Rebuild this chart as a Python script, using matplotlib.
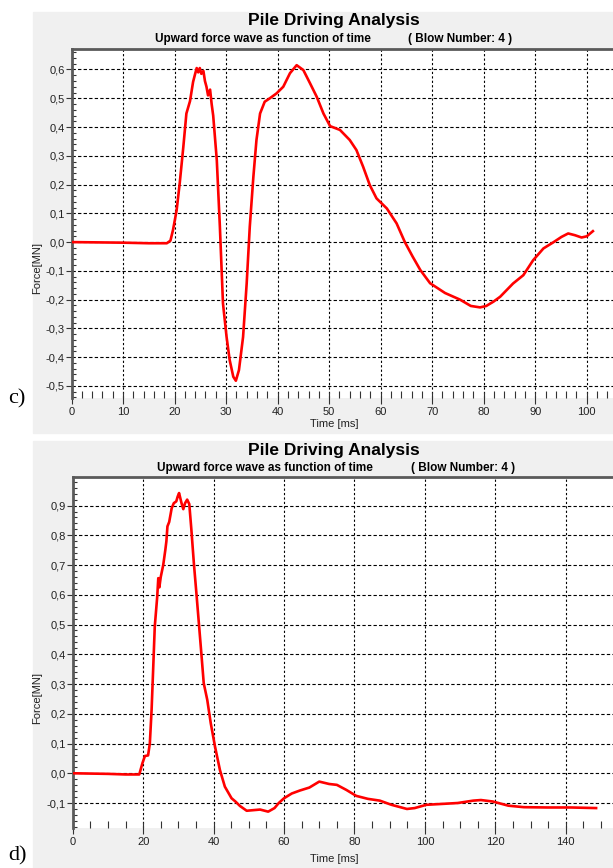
import numpy as np
import matplotlib
matplotlib.use("Agg")
import matplotlib.pyplot as plt
from matplotlib.patches import Rectangle
from matplotlib.ticker import MultipleLocator, FuncFormatter

# panel c) upward force wave, time in ms, force in MN
c_time = [0, 5, 10, 15, 18.5, 19.2, 19.7, 20.4, 21.0, 21.7, 22.3, 23.0, 23.6, 24.0,
          24.3, 24.6, 24.9, 25.2, 25.6, 25.9, 26.2, 26.5, 26.9, 27.2, 27.5, 28.2,
          28.8, 29.4, 30.1, 30.7, 31.4, 31.9, 32.5, 33.3, 34.0, 34.6, 35.3, 35.9,
          36.6, 37.5, 38.5, 39.8, 41.1, 42.4, 43.7, 45.0, 46.3, 47.6, 48.9, 50.2,
          52.1, 54.0, 55.3, 56.6, 57.9, 59.2, 61.2, 63.1, 64.7, 66.2, 67.7, 69.6,
          72.5, 75.4, 77.5, 79.3, 80.5, 81.9, 83.2, 85.7, 87.7, 89.6, 91.6, 93.5,
          95.1, 96.4, 97.7, 99.0, 100.0, 101.2]
c_force = [0.0, -0.001, -0.002, -0.004, -0.004, 0.005, 0.042, 0.11, 0.204, 0.33,
           0.447, 0.49, 0.557, 0.585, 0.605, 0.59, 0.605, 0.585, 0.595, 0.56, 0.54,
           0.51, 0.53, 0.48, 0.44, 0.285, 0.053, -0.213, -0.33, -0.41, -0.468,
           -0.482, -0.445, -0.33, -0.144, 0.053, 0.227, 0.355, 0.447, 0.488, 0.50,
           0.517, 0.54, 0.587, 0.615, 0.598, 0.552, 0.505, 0.447, 0.403, 0.39,
           0.355, 0.32, 0.262, 0.198, 0.152, 0.117, 0.065, 0.0, -0.05, -0.097,
           -0.143, -0.177, -0.20, -0.222, -0.227, -0.222, -0.207, -0.19, -0.144,
           -0.115, -0.063, -0.022, -0.001, 0.018, 0.03, 0.024, 0.016, 0.02, 0.038]

# panel d)
d_time = [0, 5, 10, 15, 18.9, 19.8, 20.5, 21.4, 21.9, 22.4, 22.8, 23.3, 24.0, 24.3,
          24.6, 25.0, 25.7, 26.3, 26.6, 26.9, 27.4, 28.1, 28.7, 29.4, 29.8, 30.2,
          30.9, 31.4, 31.9, 32.5, 33.1, 33.7, 34.4, 35.2, 35.9, 36.6, 37.2, 38.2,
          39.2, 40.4, 41.8, 43.2, 45.1, 46.2, 47.5, 49.4, 51.3, 53.2, 55.5, 57.3,
          58.5, 60.0, 62.2, 64.5, 67.2, 70.0, 72.8, 75.0, 77.7, 80.5, 83.8, 87.2,
          90.5, 94.9, 97.1, 100.4, 104.9, 109.3, 113.7, 115.9, 119.3, 123.7, 128.1,
          134.8, 141.4, 148.6]
d_force = [0.0, -0.001, -0.002, -0.004, -0.004, 0.034, 0.058, 0.06, 0.10, 0.213,
           0.336, 0.493, 0.594, 0.656, 0.625, 0.66, 0.70, 0.751, 0.78, 0.83, 0.845,
           0.891, 0.908, 0.914, 0.93, 0.942, 0.908, 0.888, 0.908, 0.92, 0.905,
           0.818, 0.706, 0.594, 0.493, 0.392, 0.303, 0.247, 0.168, 0.09, 0.011,
           -0.045, -0.084, -0.095, -0.11, -0.126, -0.124, -0.122, -0.129, -0.117,
           -0.10, -0.084, -0.068, -0.058, -0.048, -0.028, -0.036, -0.039, -0.056,
           -0.076, -0.086, -0.092, -0.106, -0.12, -0.117, -0.106, -0.103, -0.1,
           -0.092, -0.09, -0.095, -0.109, -0.114, -0.115, -0.115, -0.117]

W, H = 613, 868
SANS = ["Liberation Sans Narrow", "Liberation Sans", "DejaVu Sans"]
SERIF = ["Liberation Serif", "DejaVu Serif"]
PANEL = "#f0f0f0"
SPINE = "#5a5a5a"


def fx(x):
    return x / W


def fy(y):
    return 1 - y / H


def comma(v, pos):
    s = "%.1f" % v
    if s == "-0.0":
        s = "0.0"
    return s.replace(".", ",")


def make_panel(fig, box, top, bot, t, f, xlim, ylim, xmaj, xmin, ymaj, letter, lefts):
    # grey background of the panel, behind the axes
    fig.patches.append(Rectangle((fx(33), fy(bot)), 1 - fx(33), (bot - top) / H,
                                 transform=fig.transFigure, color=PANEL, zorder=-5))
    l, r, t0, b0 = box
    ax = fig.add_axes([fx(l), fy(b0), fx(r) - fx(l), (b0 - t0) / H])
    ax.set_zorder(2)
    ax.set_facecolor("white")
    ax.plot(t, f, color="#ff0000", lw=1.9, zorder=3, solid_joinstyle="round")
    ax.set_xlim(*xlim)
    ax.set_ylim(*ylim)

    ax.xaxis.set_major_locator(MultipleLocator(xmaj))
    ax.xaxis.set_minor_locator(MultipleLocator(xmin))
    ax.yaxis.set_major_locator(MultipleLocator(ymaj))
    ax.yaxis.set_minor_locator(MultipleLocator(0.02))
    ax.yaxis.set_major_formatter(FuncFormatter(comma))

    for s in ["right", "bottom"]:
        ax.spines[s].set_visible(False)
    for s in ["left", "top"]:
        ax.spines[s].set_color(SPINE)
        ax.spines[s].set_linewidth(2.0)

    ax.tick_params(axis="y", which="major", direction="out", length=4, width=0.8,
                   color="#333333", labelsize=8, labelcolor="#222222", pad=1)
    ax.tick_params(axis="y", which="minor", direction="in", length=3, width=0.8,
                   color="#333333")
    ax.tick_params(axis="x", which="major", direction="inout", length=9, width=0.8,
                   color="#333333", labelsize=8, labelcolor="#222222", pad=2)
    ax.tick_params(axis="x", which="minor", direction="in", length=5, width=0.8,
                   color="#333333")
    for lab in ax.get_xticklabels() + ax.get_yticklabels():
        lab.set_family(SANS)

    ax.grid(True, which="major", axis="y", color="black", lw=0.8,
            linestyle=(0, (3, 2)), zorder=1)
    ax.grid(True, which="major", axis="x", color="black", lw=0.8,
            linestyle=(0, (2, 2)), zorder=1)
    ax.set_axisbelow(True)

    # titles and labels
    fig.text(fx(334), fy(top + 9), "Pile Driving Analysis", ha="center", va="center",
             fontsize=12.5, fontweight="bold", family=SANS)
    fig.text(fx(lefts[0]), fy(top + 27), "Upward force wave as function of time",
             ha="left", va="center", fontsize=8.5, fontweight="bold", family=SANS)
    fig.text(fx(lefts[1]), fy(top + 27), "( Blow Number: 4 )",
             ha="left", va="center", fontsize=8.5, fontweight="bold", family=SANS)
    fig.text(fx(334), fy(bot - 9), "Time [ms]", ha="center", va="center",
             fontsize=8, family=SANS, color="#222222")
    fig.text(fx(37), fy((t0 + b0) / 2 + 45), "Force[MN]", ha="center", va="center",
             rotation=90, fontsize=8, family=SANS, color="#222222")
    fig.text(fx(8), fy(bot - 34 if letter == "c)" else bot - 12), letter, ha="left",
             va="center", fontsize=16, family=SERIF)
    return ax


fig = plt.figure(figsize=(W / 100, H / 100), dpi=100)
fig.patch.set_facecolor("white")

make_panel(fig, (71.5, 613, 48.5, 398), 12, 433, c_time, c_force,
           (0, 105.1), (-0.542, 0.673), 10, 2, 0.1, "c)", (155, 408))
make_panel(fig, (72.7, 613, 477.3, 828.3), 441, 868, d_time, d_force,
           (0, 153.4), (-0.185, 0.995), 20, 5, 0.1, "d)", (157, 411))

fig.savefig("out.png", dpi=100)
